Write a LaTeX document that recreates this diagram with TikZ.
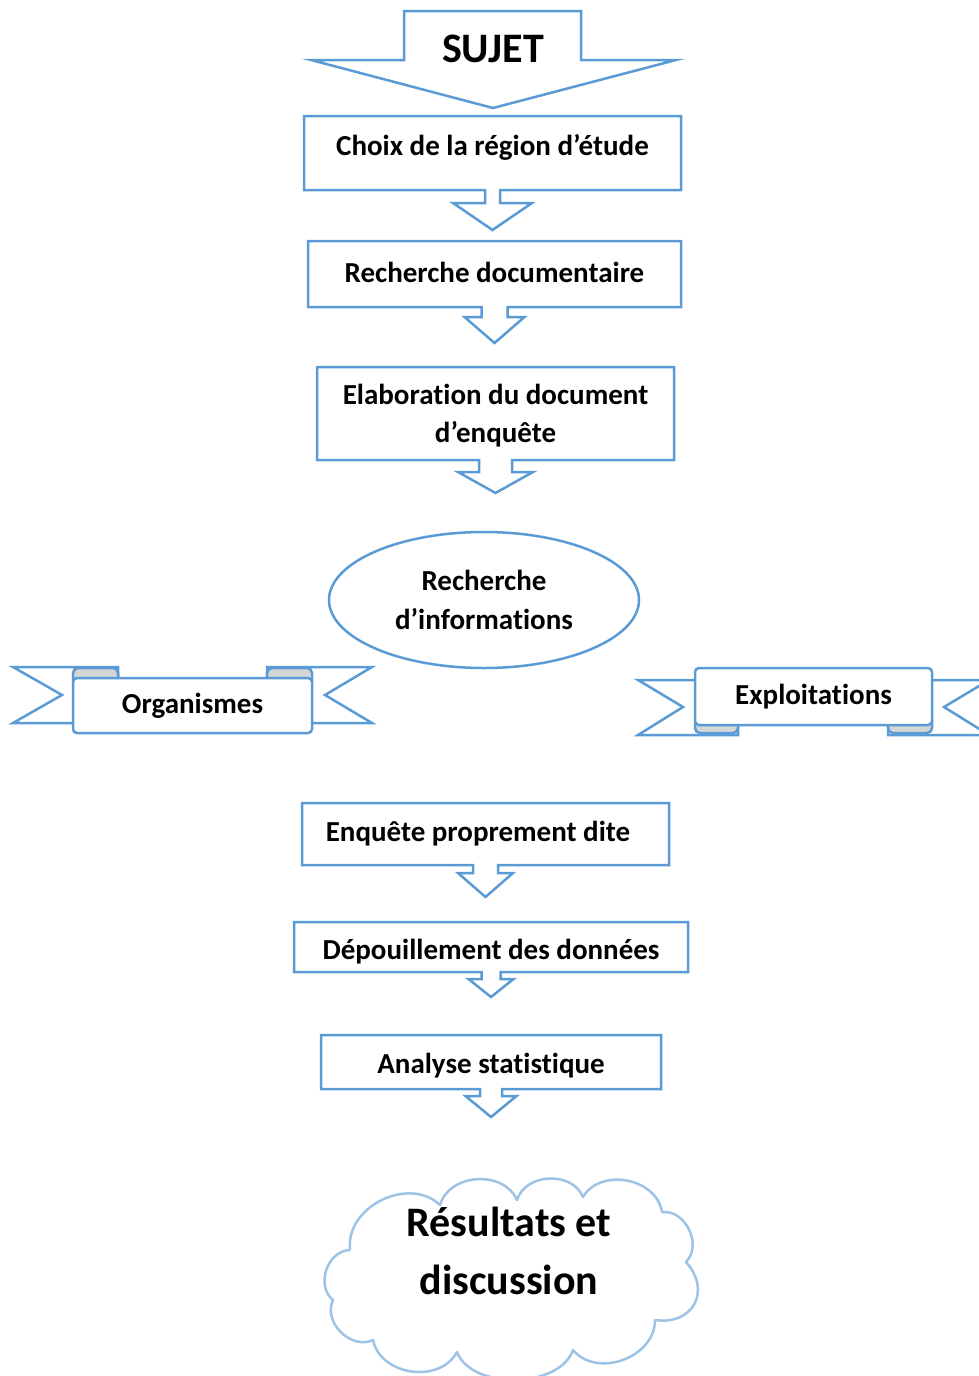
\documentclass[tikz,border=0pt]{standalone}
\usepackage{fontspec}
\setmainfont[Ligatures=NoCommon,Contextuals=NoAlternate]{Carlito}
\usetikzlibrary{calc,shapes.geometric}
\definecolor{office}{HTML}{5B9BD5}
\definecolor{cloudblue}{HTML}{9DC3E6}
\definecolor{curlgray}{HTML}{D6D6D6}

% box outline with its down arrow: node, shaft half width, head half width, shaft length, head length
\newcommand{\boxarrow}[5]{%
  \draw[outline] ($(#1.south)+(#2,0)$) -- (#1.south east) -- (#1.north east)
    -- (#1.north west) -- (#1.south west) -- ($(#1.south)+(-#2,0)$)
    -- ++(0,#4) -- ++({#2-#3},0) -- ++(#3,#5) -- ++(#3,-#5) -- ++({#2-#3},0) -- cycle;}

\begin{document}
\begin{tikzpicture}[
  x=1pt,y=-1pt,
  outline/.style={draw=office,line width=2.5pt,fill=white,line join=miter},
  stepbox/.style={inner sep=0,outer sep=0,align=center,
                  font=\fontsize{29}{38}\selectfont\bfseries},
  band/.style={outline,rounded corners=4pt,inner sep=0,outer sep=0,
               font=\fontsize{29}{38}\selectfont\bfseries},
  curl/.style={outline,fill=curlgray,rounded corners=5pt},
  title/.style={font=\fontsize{42}{50}\selectfont\bfseries},
  puff/.style={bend left=70,looseness=1.1}
]
\useasboundingbox (0,0) rectangle (979,1376);

% subject arrow
\draw[outline] (404,11) -- (581,11) -- (581,60) -- (676,60) -- (493,108) -- (311,60) -- (404,60) -- cycle;
\node[title] (sujet) at (493,49) {SUJET};

\node[stepbox,minimum width=377,minimum height=74] (choix) at (492.5,153) {};
\boxarrow{choix}{7.5}{39.5}{13}{27}
\node[stepbox] (choixtxt) at (492.5,147) {Choix de la région d’étude};

\node[stepbox,minimum width=373,minimum height=66] (doc) at (494.5,274) {};
\boxarrow{doc}{13}{30}{10}{26}
\node[stepbox] (doctxt) at (494.5,272) {Recherche documentaire};

\node[stepbox,minimum width=357,minimum height=93] (elab) at (495.5,413.5) {};
\boxarrow{elab}{16.5}{37.5}{12}{21}
\node[stepbox] (elabtxt) at (495.5,416) {Elaboration du document\\d’enquête};

% information search
\node[outline,ellipse,minimum width=310,minimum height=136,inner sep=0,align=center,
      font=\fontsize{29}{39}\selectfont\bfseries] (info) at (484,600) {Recherche\\d’informations};

% ribbon: Organismes
\draw[outline] (118,667) -- (13,667) -- (62,695) -- (13,723) -- (118,723) -- cycle;
\draw[outline] (267,667) -- (372,667) -- (325,695) -- (372,723) -- (267,723) -- cycle;
\draw[curl] (73,668) rectangle (118,686);
\draw[curl] (267,668) rectangle (312,686);
\node[band,minimum width=239,minimum height=55] (organismes) at (192.5,705.5) {Organismes};

% ribbon: Exploitations
\draw[outline] (738,680) -- (638,680) -- (683,707) -- (638,735) -- (738,735) -- cycle;
\draw[outline] (888,680) -- (989,680) -- (944,707) -- (989,735) -- (888,735) -- cycle;
\draw[curl] (695,715) rectangle (738,733);
\draw[curl] (888,715) rectangle (932,733);
\node[band,minimum width=237,minimum height=57] (exploitations) at (813.5,696.5) {Exploitations};

\node[stepbox,minimum width=367,minimum height=62] (enquete) at (485.5,834) {};
\boxarrow{enquete}{12.5}{27.5}{8}{24}
\node[stepbox] (enquetetxt) at (478,834) {Enquête proprement dite};

\node[stepbox,minimum width=394,minimum height=50] (depouil) at (491,947) {};
\boxarrow{depouil}{9.5}{22.5}{7}{18}
\node[stepbox] (depouiltxt) at (491,952) {Dépouillement des données};

\node[stepbox,minimum width=340,minimum height=54] (analyse) at (491,1062) {};
\boxarrow{analyse}{11}{25.5}{7}{21}
\node[stepbox] (analysetxt) at (491,1066) {Analyse statistique};

% results cloud
\draw[draw=cloudblue,line width=2.5pt,line join=round]
  (350,1250) to[puff] (440,1205) to[puff] (517,1200) to[puff] (583,1197)
  to[puff] (662,1212) to[puff] (686,1262) to[puff,looseness=1.5] (655,1320)
  to[puff] (573,1350) to[puff,looseness=0.9] (457,1352) to[puff] (373,1340)
  to[puff] (333,1300) to[puff] (350,1250);
\node[align=center,font=\fontsize{42}{58}\selectfont\bfseries] (resultats) at (509,1251) {Résultats et\\discussion};
\end{tikzpicture}
\end{document}
